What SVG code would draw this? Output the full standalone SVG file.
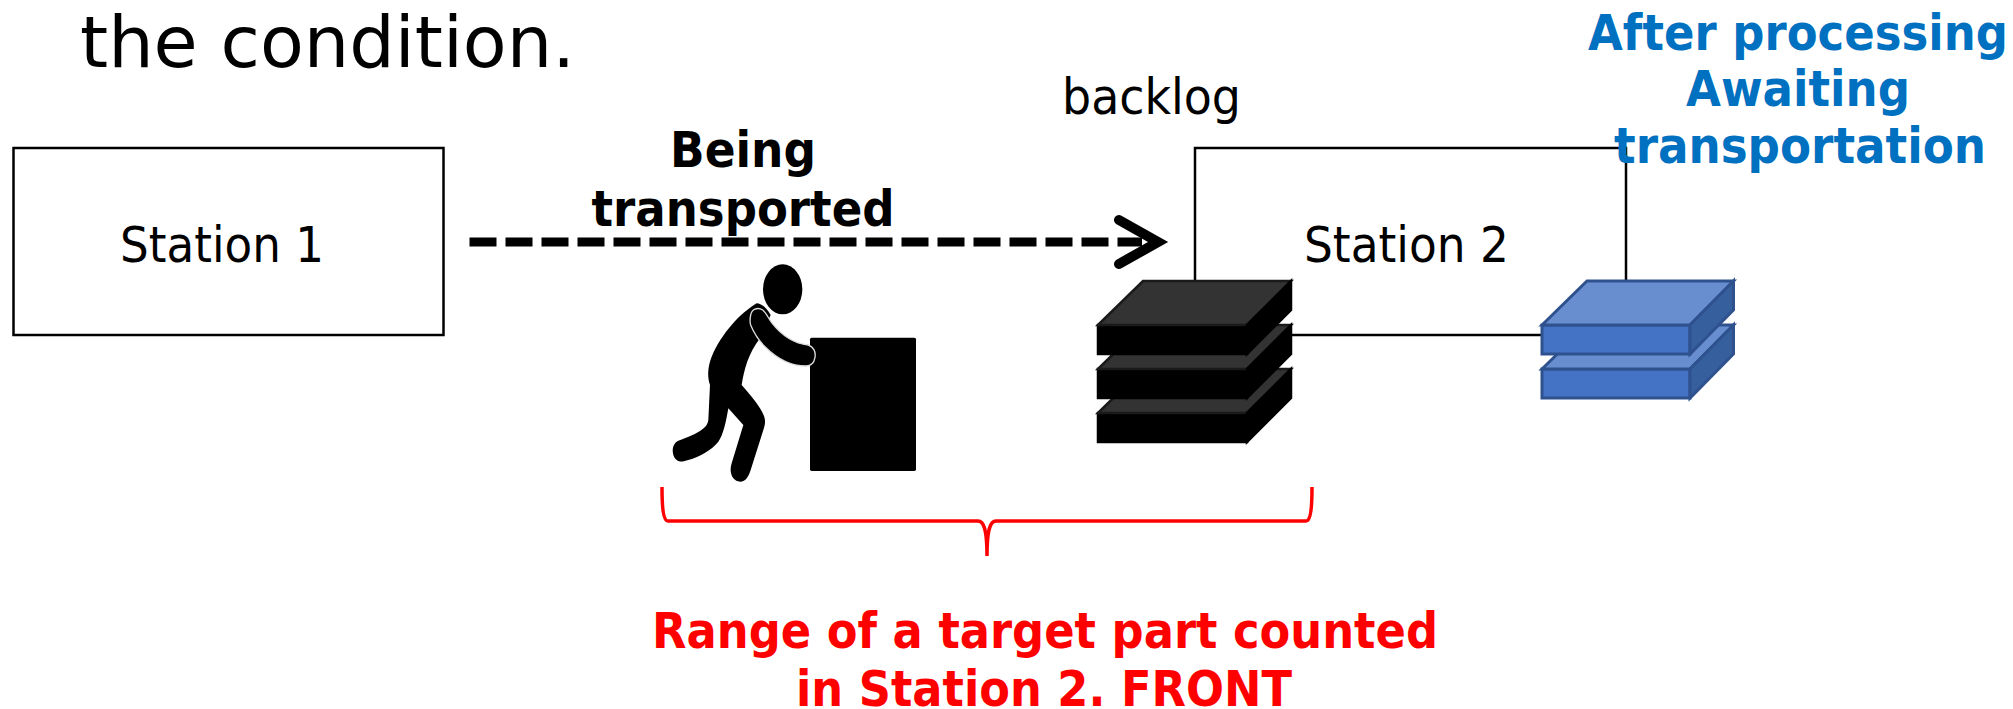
<svg xmlns="http://www.w3.org/2000/svg" width="2013" height="709" viewBox="0 0 2013 709">
<style>
text{font-family:"DejaVu Sans","Liberation Sans",sans-serif}
.t{fill:#000;font-size:50px}
.b{font-weight:700;text-anchor:middle;font-size:50px}
.st{fill:#fff;stroke:#000;stroke-width:2.5}
.k1{fill:#000;stroke:#000;stroke-width:2.5}
.k2{fill:#333;stroke:#1a1a1a;stroke-width:2.5}
.b1{fill:#4472c4;stroke:#2f528f;stroke-width:3}
.b2{fill:#698ed0;stroke:#2f528f;stroke-width:3}
.b3{fill:#365f9d;stroke:#2f528f;stroke-width:3}
</style>
<defs>
<g id="boxK"><path class="k1" d="M0 44H149V73H0Z"/><path class="k2" d="M0 44L45 0H193L149 44Z"/><path class="k1" d="M149 44L193 0V29L149 73Z"/></g>
<g id="boxB"><path class="b1" d="M0 44H148V73H0Z"/><path class="b2" d="M0 44L45 0H191.500L148 44Z"/><path class="b3" d="M148 44L191.500 0V29L148 73Z"/></g>
</defs>
<text id="title" x="80" y="67" style="font-size:72px" textLength="495" lengthAdjust="spacingAndGlyphs">the condition.</text>
<g id="station1"><rect class="st" x="13.500" y="148" width="430" height="187"/><text class="t" x="120" y="262" textLength="204" lengthAdjust="spacingAndGlyphs">Station 1</text></g>
<g id="station2"><rect class="st" x="1195" y="148" width="431" height="187"/><text class="t" x="1304" y="262" textLength="205" lengthAdjust="spacingAndGlyphs">Station 2</text></g>
<g id="connectors">
<path d="M469.500 242H1142" fill="none" stroke="#000" stroke-width="9" stroke-dasharray="27 9"/>
<path d="M1119 220L1158 242L1119 264" fill="none" stroke="#000" stroke-width="10" stroke-linecap="round"/>
<path d="M662 487C662 505 663 521 668 521H978C984 521 987 530 987 556C987 530 990 521 996 521H1306C1311 521 1312 505 1312 487" fill="none" stroke="#f00" stroke-width="3.500"/>
</g>
<g id="label-transport"><text class="b" x="743" y="167" textLength="146" lengthAdjust="spacingAndGlyphs">Being</text><text class="b" x="743" y="226" textLength="303" lengthAdjust="spacingAndGlyphs">transported</text></g>
<text id="label-backlog" class="t" x="1062" y="114" textLength="179" lengthAdjust="spacingAndGlyphs">backlog</text>
<g id="label-after" fill="#0070c0"><text class="b" x="1798" y="50" textLength="420" lengthAdjust="spacingAndGlyphs">After processing</text><text class="b" x="1798" y="106" textLength="224" lengthAdjust="spacingAndGlyphs">Awaiting</text><text class="b" x="1800" y="163" textLength="372" lengthAdjust="spacingAndGlyphs">transportation</text></g>
<g id="worker" transform="translate(640 250) scale(.33333)">
<rect x="510" y="263" width="318" height="400" rx="5"/>
<ellipse cx="428" cy="118" rx="59" ry="75"/>
<path d="M350 160C300 190 245 250 215 320C205 345 200 375 210 405L205 510C203 525 195 533 180 543C160 556 135 565 115 572C95 580 92 615 110 630C120 637 130 635 145 630C180 620 215 600 235 575C250 555 258 515 265 475L310 525L275 640C265 670 280 695 300 695C318 695 325 680 332 660L370 540C378 515 378 505 360 475C345 450 325 428 305 405C312 360 325 310 360 265L392 195C380 175 365 160 350 160Z"/>
<path d="M332 195C335 178 352 170 368 180C380 190 385 205 395 218C420 250 455 280 505 285C520 290 528 305 525 322C522 340 512 348 498 348C450 348 410 325 375 290C355 270 340 245 332 225C329 215 330 205 332 195Z" stroke="#ddd" stroke-width="4"/>
</g>
<g id="stack-backlog"><use href="#boxK" x="1098" y="369"/><use href="#boxK" x="1098" y="325"/><use href="#boxK" x="1098" y="281"/></g>
<g id="stack-done"><use href="#boxB" x="1542" y="325"/><use href="#boxB" x="1542" y="281"/></g>
<g id="label-range" fill="#f00"><text class="b" x="1045" y="648" textLength="786" lengthAdjust="spacingAndGlyphs">Range of a target part counted</text><text class="b" x="1044" y="706" textLength="496" lengthAdjust="spacingAndGlyphs">in Station 2. FRONT</text></g>
</svg>
